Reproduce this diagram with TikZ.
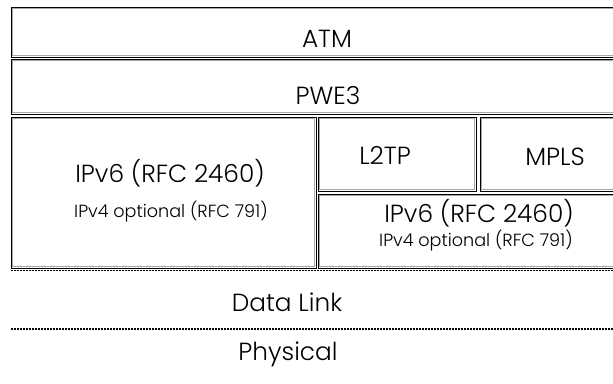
\documentclass[tikz,border=0pt]{standalone}
\usepackage{fontspec}
\setmainfont{Poppins}[UprightFont=* Light]
\begin{document}
\begin{tikzpicture}[x=1pt,y=-1pt,
  layerbox/.style={draw=black,line width=1pt},
  innerline/.style={draw=gray!70,line width=1pt},
  big/.style={font=\fontsize{24.8}{28}\selectfont,anchor=base,inner sep=0pt},
  small/.style={font=\fontsize{17.6}{20}\selectfont,anchor=base,inner sep=0pt},
  sepline/.style={line width=1.8pt,dash pattern=on 2pt off 1pt}]
\useasboundingbox (0,0) rectangle (613,383);
\begin{scope}
\clip (0,0) rectangle (613,383);
% boxes
\foreach \xa/\ya/\xb/\yb in {11/7/625/57, 11/59/625/114, 11/117/316/268, 318/117/476/191, 480/117/625/191, 318/194/625/268}{
  \draw[layerbox] (\xa,\ya) rectangle (\xb,\yb);
  \draw[innerline] (\xa+1.5,\ya+1.5) rectangle (\xb-1.5,\yb-1.5);
}
\end{scope}
% texts
\node[big] (atm) at (327,47) {ATM};
\node[big] (pwe) at (328,104) {PWE3};
\node[big] (ipl) at (170,182) {IPv6 (RFC 2460)};
\node[small] (ipvl) at (171,217) {IPv4 optional (RFC 791)};
\node[big] (l2tp) at (385,164) {L2TP};
\node[big] (mpls) at (555,165) {MPLS};
\node[big] (ipr) at (479,222) {IPv6 (RFC 2460)};
\node[small] (ipvr) at (476,246) {IPv4 optional (RFC 791)};
\node[big] (dl) at (287,311) {Data Link};
\node[big] (ph) at (288,360) {Physical};
% separators
\coordinate (s1a) at (11,270.5);
\coordinate (s1b) at (613,270.5);
\coordinate (s2a) at (11,329);
\coordinate (s2b) at (613,329);
\draw[sepline] (s1a) -- (s1b);
\draw[sepline,line width=1.2pt] (s2a) -- (s2b);
\end{tikzpicture}
\end{document}
